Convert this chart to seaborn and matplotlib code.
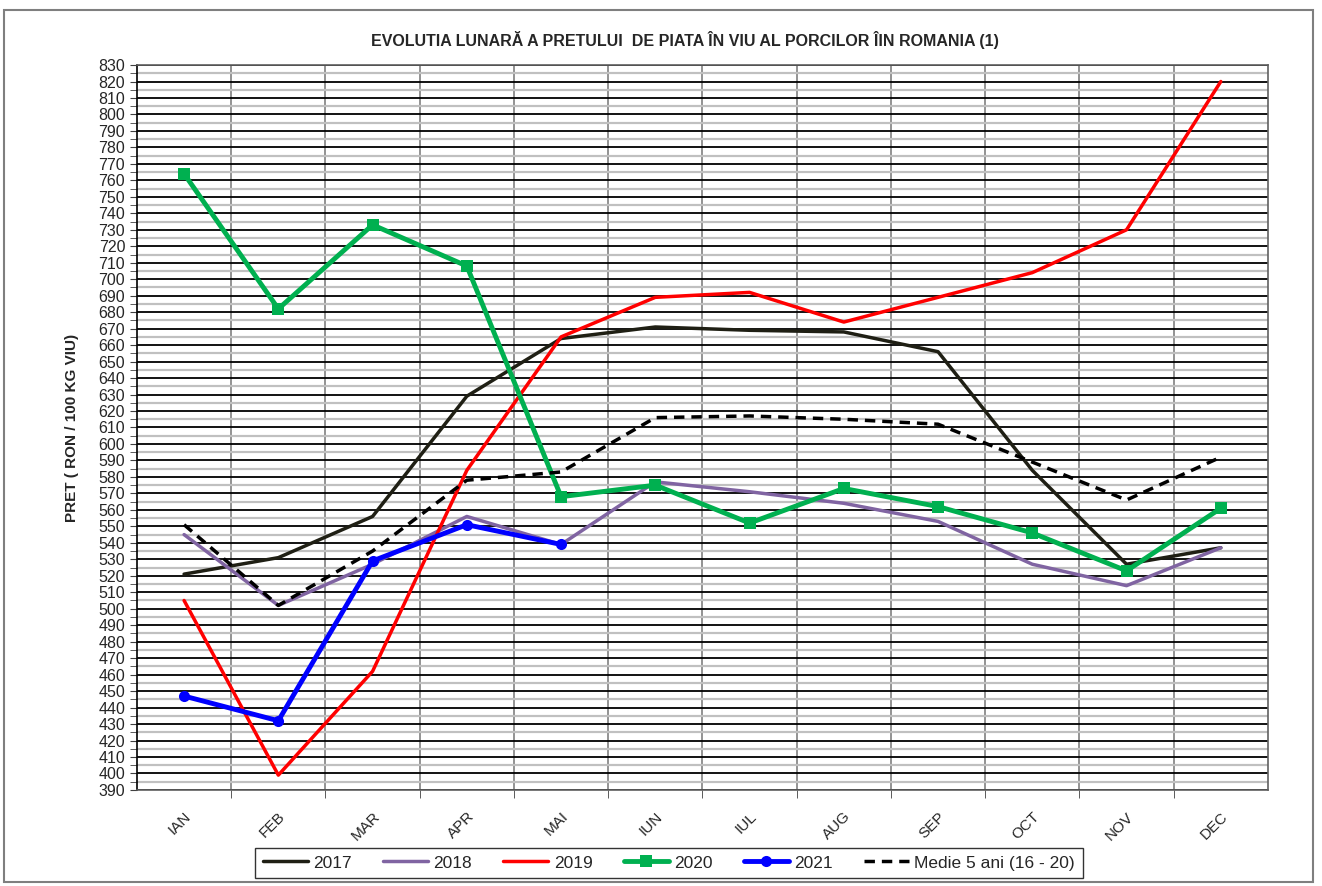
import numpy as np
import pandas as pd
import matplotlib
matplotlib.use('Agg')
import matplotlib.pyplot as plt
import matplotlib.ticker as mticker
from matplotlib.patches import Rectangle
import seaborn as sns

luni = ['IAN', 'FEB', 'MAR', 'APR', 'MAI', 'IUN', 'IUL', 'AUG', 'SEP', 'OCT', 'NOV', 'DEC']

pret_2017 = [521, 531, 556, 629, 664, 671, 669, 668, 656, 584, 527, 537]
pret_2018 = [545, 502, 527, 556, 539, 577, 571, 564, 553, 527, 514, 537]
pret_2019 = [505, 399, 462, 584, 665, 689, 692, 674, 689, 704, 730, 820]
pret_2020 = [764, 682, 733, 708, 568, 575, 552, 573, 562, 546, 523, 561]
pret_2021 = [447, 432, 529, 551, 539]
medie_5ani = [551, 502, 535, 578, 583, 616, 617, 615, 612, 589, 566, 592]

sns.set_style('white')
plt.rcParams['font.family'] = ['Liberation Sans', 'DejaVu Sans']

fig = plt.figure(figsize=(13.22, 8.86), dpi=100)
ax = fig.add_axes([0.1036, 0.1084, 0.8555, 0.8182])

series = [
    ('2017', pret_2017, dict(color='#1f1f14', lw=2.5)),
    ('2018', pret_2018, dict(color='#8064a2', lw=2.5)),
    ('2019', pret_2019, dict(color='#ff0000', lw=2.5)),
    ('2020', pret_2020, dict(color='#00b050', lw=3.5, marker='s', markersize=8)),
    ('2021', pret_2021, dict(color='#0000ff', lw=3.5, marker='o', markersize=8)),
    ('Medie 5 ani (16 - 20)', medie_5ani, dict(color='black', lw=2.5, linestyle=(0, (3, 2)))),
]

for name, vals, style in series:
    df = pd.DataFrame({'x': np.arange(len(vals)), 'pret': vals})
    sns.lineplot(data=df, x='x', y='pret', ax=ax, label=name,
                 markeredgewidth=0, zorder=3, **style)

ax.set_xlim(-0.5, 11.5)
ax.set_ylim(390, 830)

ax.set_xticks(np.arange(12))
ax.set_xticklabels(luni, rotation=45, ha='right', rotation_mode='anchor', fontsize=11)
ax.xaxis.set_minor_locator(mticker.FixedLocator(np.arange(0.5, 11.5, 1)))
ax.tick_params(axis='x', which='major', length=0, pad=14)
ax.tick_params(axis='x', which='minor', length=6, color='#404040', direction='out', bottom=True)

ax.yaxis.set_major_locator(mticker.MultipleLocator(10))
ax.yaxis.set_minor_locator(mticker.MultipleLocator(5))
ax.tick_params(axis='y', which='both', length=5, color='#404040', direction='out', left=True, labelsize=11.5)

ax.grid(which='minor', axis='y', color='#c0c0c0', lw=1.6, zorder=0)
ax.grid(which='major', axis='y', color='black', lw=1.3, zorder=1)
ax.grid(which='minor', axis='x', color='#808080', lw=1.2, zorder=1)
ax.set_axisbelow(True)

for s in ax.spines.values():
    s.set_color('#606060')
    s.set_linewidth(1.2)
ax.spines['left'].set_color('black')

ax.set_xlabel('')
ax.set_ylabel('PRET ( RON / 100 KG VIU)', fontsize=11, fontweight='bold', labelpad=14)

fig.text(0.518, 0.955, 'EVOLUTIA LUNARĂ A PRETULUI  DE PIATA ÎN VIU AL PORCILOR ÎIN ROMANIA (1)',
         ha='center', va='center', fontsize=11.5, fontweight='bold')

ax.legend(loc='center', bbox_to_anchor=(0.506, 0.026), bbox_transform=fig.transFigure,
          ncol=6, frameon=True, fancybox=False, edgecolor='black', fontsize=12.5,
          handlelength=2.6, columnspacing=1.8, handletextpad=0.3, borderpad=0.45)

fig.patches.append(Rectangle((0.003, 0.005), 0.99, 0.984, transform=fig.transFigure,
                             fill=False, edgecolor='#7f7f7f', lw=1.5))

fig.savefig('out.png', dpi=100)
